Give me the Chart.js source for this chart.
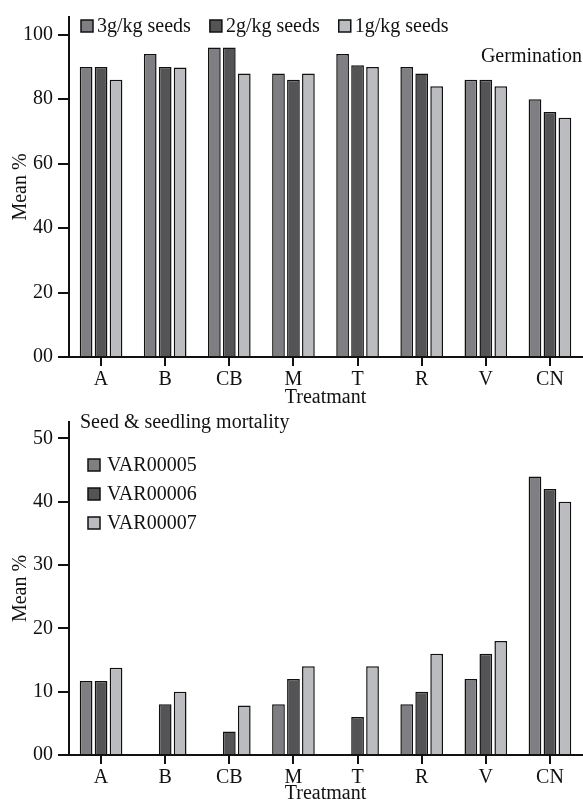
<!DOCTYPE html>
<html>
<head>
<meta charset="utf-8">
<script src="https://cdn.jsdelivr.net/npm/chart.js@4.4.0/dist/chart.umd.min.js"></script>
<style>
  body { margin: 0; background: #fff; }
  canvas { position: absolute; left: 0; }
</style>
</head>
<body>
<canvas id="germChart" width="583" height="412" style="top:0"></canvas>
<canvas id="mortChart" width="583" height="397" style="top:405px"></canvas>
<script>
// categories and values
const treatments = ["A", "B", "CB", "M", "T", "R", "V", "CN"];

const germLabels = ["3g/kg seeds", "2g/kg seeds", "1g/kg seeds"];
const germ3g = [90, 94, 96, 88, 94, 90, 86, 80];
const germ2g = [90, 90, 96, 86, 90.5, 88, 86, 76];
const germ1g = [86, 89.8, 88, 88, 90, 84, 84, 74.2];
const germTicks = [0, 20, 40, 60, 80, 100];

const mortLabels = ["VAR00005", "VAR00006", "VAR00007"];
const var5 = [11.7, null, null, 8, null, 8, 12, 44];
const var6 = [11.7, 8, 3.7, 12, 6, 10, 16, 42];
const var7 = [13.8, 10, 7.8, 14, 14, 16, 18, 40];
const mortTicks = [0, 10, 20, 30, 40, 50];

const colors = ["#7f7f83", "#545457", "#bbbcbf"];
const SERIF = "'Liberation Serif', 'Times New Roman', serif";
const FONT_PX = 20;

Chart.defaults.font.family = SERIF;
Chart.defaults.font.size = FONT_PX;
Chart.defaults.color = "#111";

// legend boxes + panel note, drawn by hand so they sit inside the plot
const boxLegend = {
  id: "boxLegend",
  afterDraw(chart, args, opts) {
    const ctx = chart.ctx;
    ctx.save();
    ctx.font = FONT_PX + "px " + SERIF;
    ctx.textBaseline = "middle";
    let x = opts.x;
    let y = opts.y;
    chart.data.datasets.forEach((ds) => {
      ctx.fillStyle = ds.backgroundColor;
      ctx.fillRect(x, y - 6, 12, 12);
      ctx.lineWidth = 1.5;
      ctx.strokeStyle = "#111";
      ctx.strokeRect(x, y - 6, 12, 12);
      ctx.fillStyle = "#111";
      ctx.fillText(ds.label, x + opts.textOffset, y + 1);
      if (opts.vertical) {
        y += opts.step;
      } else {
        x += opts.textOffset + ctx.measureText(ds.label).width + opts.gap;
      }
    });
    if (opts.note) {
      ctx.textAlign = opts.note.align || "left";
      ctx.fillText(opts.note.text, opts.note.x, opts.note.y);
    }
    ctx.restore();
  },
};

function makeDatasets(labels, series) {
  return series.map((data, i) => ({
    label: labels[i],
    data: data,
    backgroundColor: colors[i],
    borderColor: "#111",
    borderWidth: 1.5,
    categoryPercentage: 0.7,
    barPercentage: 0.85,
  }));
}

function makeOptions(tickValues, yMax, padTop, xHeight, titlePad, legendOpts) {
  return {
    responsive: false,
    animation: false,
    layout: { padding: { top: padTop, right: 1, left: 0, bottom: 0 } },
    plugins: {
      legend: { display: false },
      tooltip: { enabled: false },
      boxLegend: legendOpts,
    },
    scales: {
      x: {
        border: { display: true, color: "#111", width: 2 },
        grid: {
          display: true,
          drawOnChartArea: false,
          drawTicks: true,
          tickLength: 9,
          offset: false,
          color: "#111",
          lineWidth: 2,
        },
        ticks: { padding: 2, color: "#111" },
        title: {
          display: true,
          text: "Treatmant",
          color: "#111",
          padding: { top: 0, bottom: titlePad },
        },
        afterFit(scale) {
          scale.height = xHeight;
        },
      },
      y: {
        min: 0,
        max: yMax,
        border: { display: true, color: "#111", width: 2 },
        grid: {
          display: true,
          drawOnChartArea: false,
          drawTicks: true,
          tickLength: 11,
          color: "#111",
          lineWidth: 2,
        },
        ticks: {
          padding: 5,
          color: "#111",
          callback: (v) => (v === 0 ? "00" : v),
        },
        title: {
          display: true,
          text: "Mean %",
          color: "#111",
          padding: { top: 9, bottom: 0 },
        },
        afterBuildTicks(scale) {
          scale.ticks = tickValues.map((v) => ({ value: v }));
        },
        afterFit(scale) {
          scale.width = 69;
        },
      },
    },
  };
}

new Chart(document.getElementById("germChart").getContext("2d"), {
  type: "bar",
  data: {
    labels: treatments,
    datasets: makeDatasets(germLabels, [germ3g, germ2g, germ1g]),
  },
  options: makeOptions(germTicks, 105.5, 15, 55, 2, {
    x: 81,
    y: 26,
    textOffset: 16,
    gap: 19,
    vertical: false,
    note: { text: "Germination", x: 582, y: 57, align: "right" },
  }),
  plugins: [boxLegend],
});

new Chart(document.getElementById("mortChart").getContext("2d"), {
  type: "bar",
  data: {
    labels: treatments,
    datasets: makeDatasets(mortLabels, [var5, var6, var7]),
  },
  options: makeOptions(mortTicks, 52.6, 7, 47, -4, {
    x: 88,
    y: 60,
    textOffset: 19,
    step: 29,
    vertical: true,
    note: { text: "Seed & seedling mortality", x: 80, y: 18, align: "left" },
  }),
  plugins: [boxLegend],
});
</script>
</body>
</html>
